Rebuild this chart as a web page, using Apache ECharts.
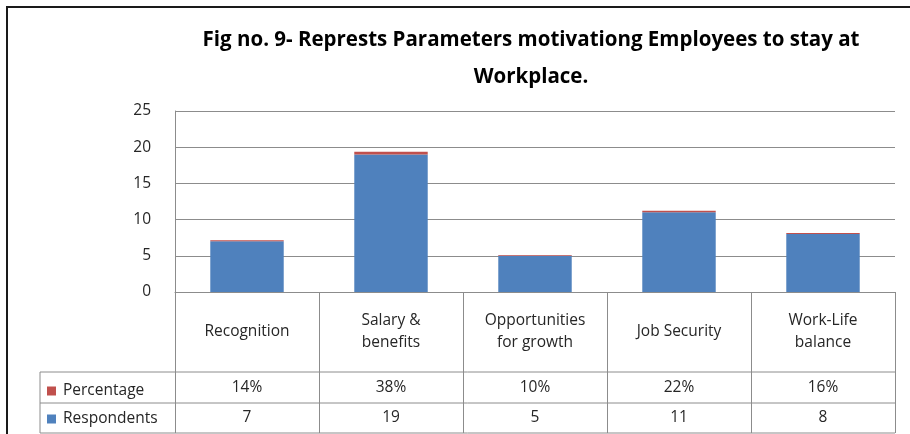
<!DOCTYPE html>
<html>
<head>
<meta charset="utf-8">
<script src="https://cdn.jsdelivr.net/npm/echarts@6/dist/echarts.min.js"></script>
<style>
html,body{margin:0;padding:0;background:#fff;}
#c{width:910px;height:434px;}
</style>
</head>
<body>
<div id="c"></div>
<script>
const titleText = "Fig no. 9- Represts Parameters motivationg Employees to stay at\nWorkplace.";
const categories = ["Recognition", "Salary &\nbenefits", "Opportunities\nfor growth", "Job Security", "Work-Life\nbalance"];
const respondents = [7, 19, 5, 11, 8];
const percentage = [0.14, 0.38, 0.10, 0.22, 0.16];
const percentLabels = ["14%", "38%", "10%", "22%", "16%"];
const yTicks = [0, 5, 10, 15, 20, 25];

const FONT = "'Open Sans', 'Noto Sans', sans-serif";
const FS = 15.5;
const TXT = '#262626';
const GRID = {left: 175, right: 15, top: 111, bottom: 142};
const W = 910, H = 434;
const plotBottom = H - GRID.bottom;   // 292
const row1 = 372, row2 = 403, row3 = 433;
const tableLeft = 40;
const lineCol = '#8c8c8c';

const chart = echarts.init(document.getElementById('c'), null, {renderer: 'canvas'});

function tableAxis(fmt, margin) {
  return {
    type: 'category', gridIndex: 0, position: 'bottom', data: categories,
    axisLine: {show: false}, axisTick: {show: false},
    axisLabel: {formatter: fmt, margin: margin, verticalAlign: 'middle',
      fontFamily: FONT, fontSize: FS, color: TXT, interval: 0}
  };
}

chart.setOption({
  animation: false,
  backgroundColor: '#fff',
  title: {
    text: titleText, left: 526, top: 17, textAlign: 'center',
    textStyle: {fontFamily: FONT, fontWeight: 'bold', fontSize: 20.5, color: '#000', lineHeight: 37}
  },
  legend: {
    orient: 'vertical', left: 42, top: row1 + 6, itemGap: 12,
    itemWidth: 9, itemHeight: 9, icon: 'rect',
    data: ['Percentage', 'Respondents'],
    textStyle: {fontFamily: FONT, fontSize: FS, color: TXT, padding: [0, 0, 0, 2]},
    selectedMode: false
  },
  grid: GRID,
  xAxis: [
    {
      type: 'category', gridIndex: 0, data: categories, boundaryGap: true,
      axisLine: {show: true, lineStyle: {color: lineCol, width: 1}},
      axisTick: {show: true, length: row3 - plotBottom, alignWithLabel: false, interval: 0, lineStyle: {color: lineCol, width: 1}},
      axisLabel: {margin: 40, verticalAlign: 'middle', fontFamily: FONT, fontSize: FS, color: TXT, lineHeight: 22, interval: 0}
    },
    tableAxis((v, i) => percentLabels[i], 96),
    tableAxis((v, i) => String(respondents[i]), 126)
  ],
  yAxis: {
    type: 'value', min: 0, max: 25, interval: 5,
    axisLine: {show: true, lineStyle: {color: lineCol}},
    axisTick: {show: false},
    splitLine: {show: true, lineStyle: {color: lineCol, width: 1}},
    axisLabel: {fontFamily: FONT, fontSize: FS, color: TXT, margin: 24,
      formatter: v => yTicks.includes(v) ? String(v) : ''}
  },
  series: [
    {name: 'Respondents', type: 'bar', stack: 's', data: respondents, barWidth: '51%',
      itemStyle: {color: '#4F81BD'}},
    {name: 'Percentage', type: 'bar', stack: 's', data: percentage, barWidth: '51%',
      itemStyle: {color: '#C0504D'}}
  ],
  graphic: [
    {type: 'rect', shape: {x: 7, y: 7, width: W + 10, height: H + 10}, style: {fill: 'none', stroke: '#1a1a1a', lineWidth: 2}, silent: true},
    {type: 'line', shape: {x1: tableLeft, y1: row1, x2: W - GRID.right, y2: row1}, style: {stroke: lineCol, lineWidth: 1}},
    {type: 'line', shape: {x1: tableLeft, y1: row2, x2: W - GRID.right, y2: row2}, style: {stroke: lineCol, lineWidth: 1}},
    {type: 'line', shape: {x1: tableLeft, y1: row3, x2: W - GRID.right, y2: row3}, style: {stroke: lineCol, lineWidth: 1}},
    {type: 'line', shape: {x1: tableLeft, y1: row1, x2: tableLeft, y2: row3}, style: {stroke: lineCol, lineWidth: 1}}
  ]
});
</script>
</body>
</html>
